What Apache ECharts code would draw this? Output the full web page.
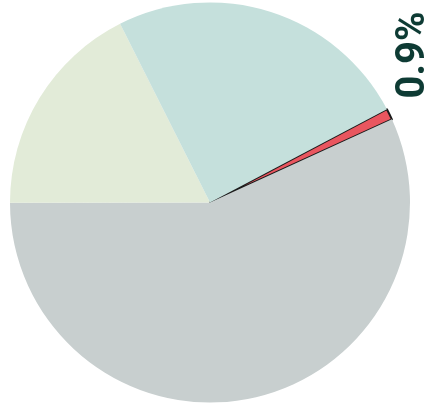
<!DOCTYPE html>
<html>
<head>
<meta charset="utf-8">
<script src="https://cdn.jsdelivr.net/npm/echarts@6/dist/echarts.min.js"></script>
<style>
  html, body { margin: 0; padding: 0; background: #ffffff; }
  #chart { width: 432px; height: 412px; }
</style>
</head>
<body>
<div id="chart"></div>
<script>
// Slice shares in percent, listed clockwise from the small highlighted slice
const categories = ['A', 'B', 'C', 'D'];
const shares = [0.9, 56.8, 17.6, 24.7];
const colors = ['#e9565f', '#c8cfcf', '#e2ebd8', '#c5e0dc'];
const labelledIndex = 0;

const chart = echarts.init(document.getElementById('chart'), null, { renderer: 'canvas' });

const data = categories.map((name, i) => ({
  name,
  value: shares[i],
  itemStyle: i === labelledIndex
    ? { color: colors[i], borderColor: '#1b1b1b', borderWidth: 2 }
    : { color: colors[i], borderWidth: 0 },
  label: { show: i === labelledIndex }
}));

chart.setOption({
  animation: false,
  series: [{
    type: 'pie',
    center: [210, 202.5],
    radius: [0, 200],
    startAngle: 27.8,
    clockwise: true,
    avoidLabelOverlap: false,
    data,
    label: {
      position: 'outside',
      formatter: p => p.value.toFixed(1) + '%',
      color: '#0e3b34',
      fontFamily: 'Roboto',
      fontWeight: 'bold',
      fontSize: 40
    },
    labelLine: { show: false },
    labelLayout: {
      x: 414,
      y: 55,
      rotate: 90,
      align: 'center',
      verticalAlign: 'middle'
    },
    emphasis: { disabled: true }
  }]
});
</script>
</body>
</html>
